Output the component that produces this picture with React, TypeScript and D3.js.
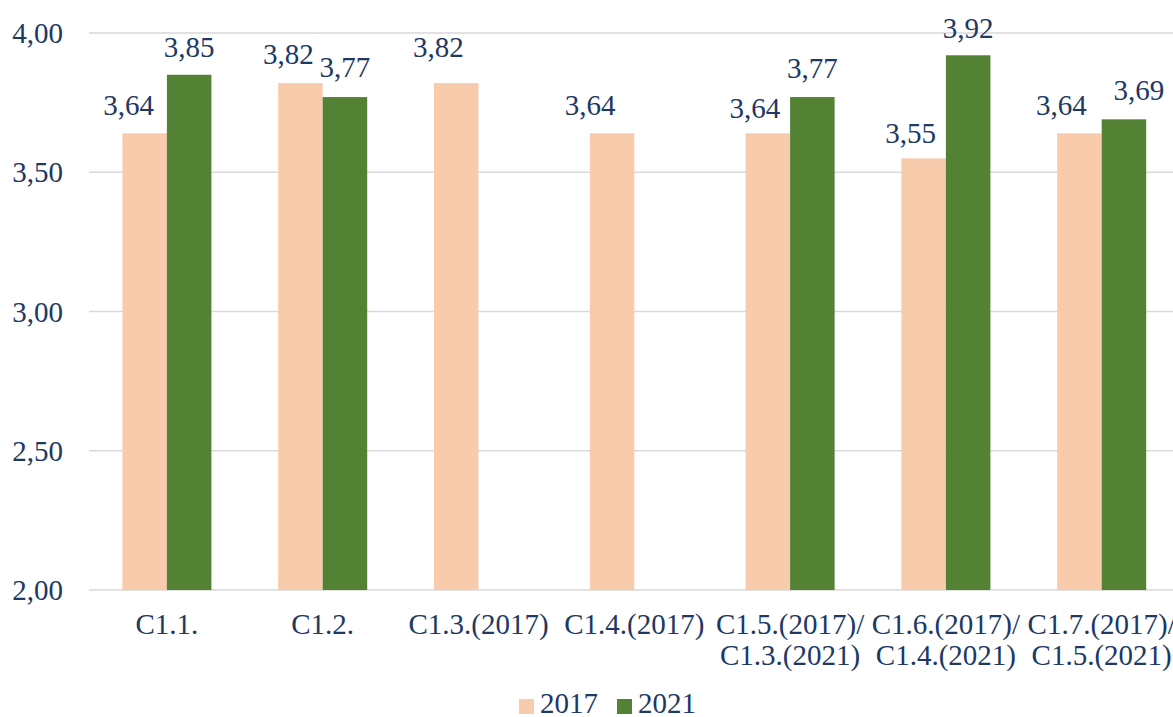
import React from "react";
import * as d3 from "d3";

const categoryLine1 = ["C1.1.", "C1.2.", "C1.3.(2017)", "C1.4.(2017)", "C1.5.(2017)/", "C1.6.(2017)/", "C1.7.(2017)/"];
const categoryLine2 = ["", "", "", "", "C1.3.(2021)", "C1.4.(2021)", "C1.5.(2021)"];
const values2017: (number | null)[] = [3.64, 3.82, 3.82, 3.64, 3.64, 3.55, 3.64];
const values2021: (number | null)[] = [3.85, 3.77, null, null, 3.77, 3.92, 3.69];
const seriesNames = ["2017", "2021"];
const seriesColors = ["#F8CBAD", "#548235"];
const yTicks = [2.0, 2.5, 3.0, 3.5, 4.0];

// label placement tweaks (as in the reference, labels were nudged)
const labelDx2017 = [-16, -12, -18, -22, -13, -13, -18];
const labelDx2021 = [0, 0, 0, 0, 0, 0, 15];
const labelGap2017 = [18, 19, 26, 18, 15, 15, 18];
const labelGap2021 = [18, 20, 18, 18, 19, 17, 19];

const W = 1173;
const H = 717;
const TEXT = "#203864";
const FONT = "'Liberation Serif', 'Times New Roman', serif";
const FS = 29;

export default function App() {
  const plotLeft = 89;
  const step = 155.8;
  const x0 = d3
    .scaleBand<string>()
    .domain(categoryLine1)
    .range([plotLeft, plotLeft + step * categoryLine1.length])
    .padding(0);
  const groupW = 89;
  const x1 = d3
    .scaleBand<string>()
    .domain(seriesNames)
    .range([(x0.bandwidth() - groupW) / 2, (x0.bandwidth() + groupW) / 2])
    .padding(0);
  const y = d3.scaleLinear().domain([2, 4]).range([590, 33]);
  const fmt = (v: number) => d3.format(".2f")(v).replace(".", ",");
  const series = [values2017, values2021];
  const dxs = [labelDx2017, labelDx2021];
  const gaps = [labelGap2017, labelGap2021];

  return (
    <svg
      width={W}
      height={H}
      style={{ position: "absolute", left: 0, top: 0, display: "block", background: "#fff" }}
      fontFamily={FONT}
    >
      {yTicks.map((t) => (
        <g key={t}>
          <line x1={plotLeft} x2={W + 10} y1={y(t)} y2={y(t)} stroke="#D9D9D9" strokeWidth={1.5} />
          <text x={63} y={y(t) + 10} textAnchor="end" fontSize={FS} fill={TEXT}>
            {fmt(t)}
          </text>
        </g>
      ))}
      {categoryLine1.map((c, i) =>
        series.map((vals, s) => {
          const v = vals[i];
          if (v == null) return null;
          const bx = (x0(c) as number) + (x1(seriesNames[s]) as number);
          const bw = x1.bandwidth();
          return (
            <g key={c + s}>
              <rect x={bx} y={y(v)} width={bw} height={y(2) - y(v)} fill={seriesColors[s]} />
              <text
                x={bx + bw / 2 + dxs[s][i]}
                y={y(v) - gaps[s][i]}
                textAnchor="middle"
                fontSize={FS}
                fill={TEXT}
              >
                {fmt(v)}
              </text>
            </g>
          );
        })
      )}
      {categoryLine1.map((c, i) => {
        const cx = (x0(c) as number) + x0.bandwidth() / 2;
        return (
          <g key={"lab" + i}>
            <text x={cx} y={634} textAnchor="middle" fontSize={FS} fill={TEXT}>
              {c}
            </text>
            {categoryLine2[i] && (
              <text x={cx} y={665} textAnchor="middle" fontSize={FS} fill={TEXT}>
                {categoryLine2[i]}
              </text>
            )}
          </g>
        );
      })}
      {seriesNames.map((n, s) => {
        const lx = [519, 617][s];
        return (
          <g key={"leg" + n}>
            <rect x={lx} y={699} width={15} height={15} fill={seriesColors[s]} />
            <text x={lx + 21} y={713} fontSize={FS} fill={TEXT}>
              {n}
            </text>
          </g>
        );
      })}
    </svg>
  );
}
